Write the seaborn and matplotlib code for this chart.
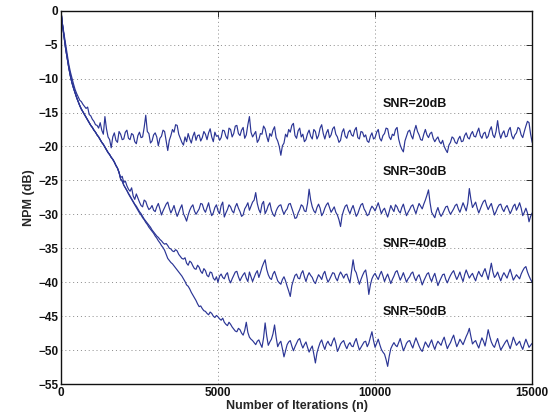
import numpy as np
import pandas as pd
import matplotlib
matplotlib.use("Agg")
import matplotlib.pyplot as plt
import seaborn as sns

# iterations (sampled every 50)
iterations = list(range(0, 15001, 50))

npm_20db = [
    0, -2.0, -3.5, -5.1, -6.5, -7.9, -9.0, -9.9, -10.8, -11.6, -12.2, -12.7, -13.2, -13.4, -13.8, -14.1, -14.4, -14.2, -15.3, -15.5,
    -16.0, -16.3, -16.8, -16.9, -17.3, -16.5, -17.6, -18.2, -15.6, -17.4, -18.6, -19.0, -20.2, -18.6, -18.0, -19.1, -19.4, -17.8, -18.2, -19.0,
    -18.9, -17.9, -17.6, -18.8, -19.0, -18.1, -18.3, -19.3, -19.6, -18.4, -17.9, -18.7, -18.6, -17.2, -15.4, -17.8, -18.1, -19.5, -19.2, -18.3,
    -18.0, -18.6, -19.9, -18.8, -18.5, -17.6, -17.8, -19.2, -20.6, -19.1, -18.4, -17.5, -17.9, -16.8, -16.9, -18.2, -18.8, -19.4, -19.8, -18.6,
    -19.3, -18.1, -18.9, -19.5, -18.5, -17.9, -19.1, -18.4, -18.3, -19.2, -18.7, -17.8, -18.2, -19.0, -18.0, -17.4, -18.6, -19.3, -17.9, -18.5,
    -18.4, -19.1, -18.7, -17.6, -17.7, -18.5, -18.9, -17.3, -17.5, -18.6, -18.1, -17.0, -16.9, -18.1, -18.4, -17.6, -17.2, -18.8, -18.3, -16.8,
    -15.6, -17.9, -18.6, -18.2, -17.8, -19.4, -19.0, -18.1, -18.2, -17.0, -17.4, -18.5, -19.3, -18.1, -18.5, -17.6, -17.1, -18.7, -19.2, -20.0,
    -21.3, -19.9, -19.5, -18.2, -18.6, -17.5, -17.9, -16.9, -16.6, -18.4, -18.8, -17.7, -17.3, -18.6, -18.2, -19.3, -19.0, -18.1, -17.6, -18.5,
    -18.9, -17.5, -17.8, -18.9, -18.4, -17.3, -16.8, -18.1, -18.9, -18.0, -17.5, -18.7, -18.3, -17.4, -17.1, -18.2, -18.6, -19.4, -19.1, -17.9,
    -17.4, -18.5, -18.8, -17.9, -17.6, -18.3, -18.5, -17.6, -17.2, -18.7, -18.9, -17.8, -17.9, -18.6, -18.3, -19.2, -19.4, -18.5, -18.0, -18.9,
    -18.7, -17.9, -17.5, -18.8, -19.2, -18.4, -18.1, -17.3, -17.4, -18.6, -19.0, -18.2, -18.4, -17.5, -17.2, -18.9, -19.8, -20.4, -20.8, -19.2,
    -18.5, -17.8, -17.6, -18.4, -18.9, -17.7, -16.9, -17.8, -18.3, -19.0, -19.1, -18.2, -17.5, -18.3, -18.7, -18.1, -17.9, -18.8, -19.3, -18.9,
    -18.6, -19.3, -19.6, -19.1, -20.0, -20.5, -20.9, -19.8, -19.4, -18.6, -18.8, -19.4, -19.6, -18.9, -18.5, -19.3, -19.2, -18.4, -18.0, -18.7,
    -18.9, -18.2, -17.8, -18.5, -18.6, -17.9, -17.3, -18.4, -18.8, -18.1, -17.9, -18.8, -18.5, -17.6, -17.1, -18.3, -18.7, -17.8, -16.2, -17.9,
    -18.8, -18.1, -17.7, -18.6, -18.5, -17.6, -17.2, -18.4, -18.9, -18.3, -18.0, -17.2, -17.4, -18.3, -18.7, -17.8, -17.0, -16.3, -16.5, -18.2,
    -19.4,
]

npm_30db = [
    0, -2.1, -3.9, -5.6, -7.0, -8.4, -9.6, -10.6, -11.4, -12.1, -12.8, -13.4, -14.0, -14.5, -14.9, -15.3, -15.7, -16.1, -16.5, -16.9,
    -17.2, -17.6, -17.9, -18.3, -18.6, -19.0, -19.4, -19.7, -20.1, -20.5, -20.9, -21.2, -21.6, -21.9, -22.3, -22.8, -23.2, -23.9, -24.6, -24.4,
    -25.3, -25.1, -25.8, -26.3, -26.6, -26.1, -27.3, -27.8, -27.0, -27.6, -28.2, -28.7, -28.9, -27.9, -28.1, -28.8, -29.3, -29.1, -28.7, -29.4,
    -29.6, -28.9, -28.4, -29.2, -30.1, -29.5, -29.0, -28.5, -28.2, -29.1, -29.8, -29.3, -28.7, -29.6, -30.3, -29.7, -29.1, -28.6, -29.9, -30.4,
    -31.0, -30.1, -29.4, -28.9, -28.6, -29.5, -30.0, -29.6, -29.2, -28.4, -28.5, -29.3, -29.7, -29.0, -28.3, -29.4, -30.2, -29.8, -29.0, -28.6,
    -29.5, -29.9, -28.7, -28.2, -30.4, -29.8, -29.3, -28.6, -28.9, -29.5, -29.8, -28.9, -28.4, -29.1, -29.6, -30.3, -30.1, -29.2, -28.8, -28.3,
    -29.4, -28.8, -28.2, -27.9, -26.8, -28.4, -29.3, -29.8, -28.5, -28.1, -29.9, -29.4, -28.7, -28.3, -29.4, -30.0, -30.3, -29.5, -29.0, -28.7,
    -28.6, -29.4, -30.0, -29.5, -29.2, -28.5, -28.4, -29.1, -29.8, -30.6, -30.5, -29.8, -29.3, -28.6, -28.8, -29.5, -29.6, -28.4, -26.3, -27.9,
    -28.9, -29.5, -29.8, -29.0, -28.5, -29.1, -30.2, -29.8, -29.1, -28.6, -28.3, -29.0, -29.7, -29.3, -28.9, -29.7, -30.1, -30.8, -31.8, -30.2,
    -29.4, -28.8, -28.6, -29.4, -29.9, -29.2, -28.7, -29.5, -30.3, -29.9, -29.2, -28.6, -28.4, -29.2, -29.6, -30.2, -30.0, -29.3, -28.8, -29.1,
    -29.5, -28.9, -28.3, -29.1, -29.9, -29.4, -29.1, -29.8, -30.4, -29.6, -28.7, -29.2, -29.6, -28.6, -28.9, -29.5, -29.8, -29.0, -28.5, -29.4,
    -30.2, -29.7, -29.3, -28.8, -28.6, -29.3, -29.9, -29.1, -28.4, -28.8, -29.2, -28.5, -27.9, -27.2, -26.4, -28.3, -29.7, -30.1, -30.5, -29.6,
    -29.0, -29.8, -30.3, -29.9, -29.4, -28.9, -28.8, -29.5, -30.0, -29.6, -29.2, -28.7, -28.5, -29.2, -29.7, -29.0, -28.3, -28.9, -29.5, -28.4,
    -26.2, -27.8, -29.0, -28.6, -28.2, -29.1, -29.8, -29.2, -28.6, -28.1, -27.9, -28.7, -29.3, -28.8, -28.4, -29.3, -30.1, -29.6, -29.0, -28.6,
    -28.5, -29.2, -29.6, -29.0, -28.7, -29.3, -29.9, -29.4, -28.8, -28.5, -29.4, -28.9, -28.3, -29.1, -30.2, -29.7, -29.1, -29.8, -31.1, -30.3,
    -29.8,
]

npm_40db = [
    0, -2.1, -3.9, -5.6, -7.0, -8.4, -9.6, -10.6, -11.4, -12.1, -12.8, -13.4, -14.0, -14.5, -14.9, -15.3, -15.7, -16.1, -16.5, -16.9,
    -17.2, -17.6, -17.9, -18.3, -18.6, -19.0, -19.4, -19.7, -20.1, -20.5, -20.9, -21.2, -21.6, -21.9, -22.3, -22.8, -23.2, -23.8, -24.8, -25.1,
    -25.7, -26.1, -26.5, -26.9, -27.3, -27.7, -28.1, -28.5, -28.8, -29.2, -29.6, -29.9, -30.3, -30.7, -31.0, -31.3, -31.6, -31.9, -32.3, -32.6,
    -32.9, -33.2, -33.4, -33.7, -33.9, -34.2, -34.4, -34.3, -34.6, -35.0, -35.1, -35.4, -35.5, -35.2, -35.4, -35.9, -36.2, -36.5, -36.6, -36.4,
    -37.2, -37.5, -36.9, -37.1, -37.6, -38.0, -38.1, -37.5, -37.8, -38.4, -38.7, -38.0, -38.3, -39.0, -39.2, -38.5, -38.6, -39.4, -39.7, -39.2,
    -40.0, -39.1, -38.8, -39.3, -39.5, -38.9, -38.6, -39.6, -40.1, -39.5, -39.0, -38.5, -38.4, -39.2, -39.8, -39.3, -38.9, -38.6, -39.4, -39.9,
    -38.5, -39.2, -39.9, -39.3, -38.7, -38.3, -39.3, -38.6, -37.8, -37.2, -36.7, -38.1, -38.9, -39.4, -39.6, -38.8, -38.4, -39.1, -39.8, -40.1,
    -40.3, -39.6, -39.2, -39.8, -40.6, -41.3, -42.1, -40.5, -39.7, -39.0, -38.8, -39.4, -39.5, -38.7, -38.3, -39.2, -39.9, -39.1, -38.6, -39.0,
    -39.3, -39.9, -40.2, -39.5, -38.9, -39.2, -39.6, -38.8, -38.4, -39.3, -40.0, -39.6, -39.1, -38.6, -38.7, -39.4, -39.8, -39.0, -38.5, -38.9,
    -39.4, -38.9, -38.8, -39.5, -40.1, -38.4, -36.7, -38.2, -38.6, -39.5, -40.3, -39.6, -39.0, -38.5, -38.2, -39.6, -41.8, -40.4, -39.5, -39.0,
    -38.7, -39.2, -39.6, -38.9, -38.4, -39.1, -39.9, -39.3, -38.8, -39.5, -40.2, -39.6, -39.1, -38.5, -38.3, -39.0, -39.7, -39.2, -38.6, -39.3,
    -40.0, -39.5, -39.2, -38.7, -38.5, -39.3, -39.8, -39.2, -38.9, -39.6, -40.4, -39.8, -39.3, -38.8, -38.6, -39.4, -39.9, -39.2, -38.7, -39.6,
    -40.5, -39.9, -39.4, -38.9, -38.8, -39.6, -40.1, -39.5, -39.0, -38.6, -38.3, -39.0, -39.6, -39.1, -38.5, -39.3, -39.9, -38.9, -38.2, -38.8,
    -39.4, -39.0, -38.7, -39.3, -39.8, -39.0, -38.4, -38.9, -39.2, -38.5, -38.0, -38.8, -39.6, -38.4, -37.2, -38.5, -39.3, -39.0, -38.5, -39.2,
    -39.8, -39.1, -38.6, -39.0, -39.4, -38.7, -38.1, -38.9, -39.7, -39.3, -38.9, -39.2, -39.5, -38.8, -38.3, -37.9, -37.7, -38.5, -39.1, -39.6,
    -40.0,
]

npm_50db = [
    0, -2.1, -3.9, -5.6, -7.0, -8.4, -9.6, -10.6, -11.4, -12.1, -12.8, -13.4, -14.0, -14.5, -14.9, -15.3, -15.7, -16.1, -16.5, -16.9,
    -17.2, -17.6, -17.9, -18.3, -18.6, -19.0, -19.4, -19.7, -20.1, -20.5, -20.9, -21.2, -21.6, -21.9, -22.3, -22.8, -23.2, -23.8, -24.8, -25.1,
    -25.7, -26.1, -26.5, -27.0, -27.4, -27.8, -28.2, -28.6, -29.0, -29.4, -29.8, -30.1, -30.5, -30.8, -31.2, -31.5, -31.9, -32.2, -32.5, -32.8,
    -33.2, -33.5, -33.9, -34.2, -34.6, -34.9, -35.3, -35.9, -36.5, -36.8, -37.1, -37.3, -37.6, -37.9, -38.2, -38.5, -38.8, -39.1, -39.5, -39.9,
    -40.4, -40.6, -41.0, -41.5, -41.9, -42.3, -42.7, -43.2, -43.6, -43.5, -43.9, -44.2, -44.3, -44.6, -44.8, -44.4, -44.6, -45.0, -45.2, -44.9,
    -45.1, -45.4, -45.6, -45.3, -45.9, -46.2, -46.4, -45.9, -46.2, -46.6, -46.9, -47.2, -47.3, -46.8, -47.0, -47.5, -47.8, -47.1, -45.9, -47.4,
    -48.1, -48.4, -48.6, -48.9, -49.2, -48.7, -48.5, -49.1, -49.6, -48.2, -46.0, -47.9, -49.3, -48.8, -48.4, -47.6, -46.3, -48.1, -49.5, -49.0,
    -48.7, -49.8, -51.0, -50.1, -49.2, -48.8, -48.6, -49.4, -50.1, -49.5, -49.0, -48.5, -48.3, -49.1, -49.7, -49.2, -48.8, -49.6, -50.3, -49.8,
    -49.4, -50.6, -51.9, -50.4, -49.6, -48.9, -48.5, -49.3, -49.9, -49.1, -48.7, -49.2, -49.4, -48.7, -48.2, -49.0, -50.2, -49.7, -49.1, -48.8,
    -48.6, -49.3, -49.8, -49.2, -48.9, -49.4, -49.5, -48.8, -48.3, -49.2, -50.0, -49.6, -49.2, -48.8, -48.7, -49.5, -49.0, -48.1, -47.3, -48.6,
    -49.6, -49.0, -48.4, -49.2, -49.9, -50.3, -50.6, -51.4, -52.4, -50.9, -49.8, -49.3, -48.9, -49.3, -49.5, -48.9, -48.3, -49.2, -50.1, -49.6,
    -49.0, -48.7, -48.6, -49.2, -49.7, -48.9, -48.2, -48.8, -49.4, -49.9, -50.2, -49.5, -48.8, -49.2, -49.6, -49.0, -48.5, -49.3, -49.9, -49.2,
    -48.7, -49.0, -49.3, -48.6, -48.1, -49.0, -49.8, -49.3, -48.9, -48.3, -47.8, -48.7, -49.5, -49.0, -48.4, -48.8, -49.2, -48.6, -48.0, -47.5,
    -46.8, -48.0, -49.1, -48.8, -48.6, -49.2, -49.7, -48.9, -48.2, -48.7, -49.4, -48.3, -47.0, -48.0, -48.8, -49.3, -49.6, -48.9, -48.3, -49.2,
    -50.0, -49.6, -49.2, -48.8, -48.5, -49.2, -49.8, -49.0, -48.1, -48.7, -49.3, -49.0, -48.7, -49.4, -49.9, -49.1, -48.4, -49.0, -49.6, -49.3,
    -49.0,
]

labels = ["SNR=20dB", "SNR=30dB", "SNR=40dB", "SNR=50dB"]
label_pos = [(10250, -13.7), (10250, -23.7), (10250, -34.4), (10250, -44.4)]
x_ticks = [0, 5000, 10000, 15000]
y_ticks = list(range(-55, 1, 5))

frames = []
for lab, vals in zip(labels, [npm_20db, npm_30db, npm_40db, npm_50db]):
    assert len(vals) == len(iterations), (lab, len(vals))
    frames.append(pd.DataFrame({"n": iterations, "npm": vals, "snr": lab}))
df = pd.concat(frames, ignore_index=True)

sns.set_style("white")
plt.rcParams["font.family"] = ["Liberation Sans", "DejaVu Sans"]
plt.rcParams["font.weight"] = "bold"

fig = plt.figure(figsize=(5.59, 4.19), dpi=100)
ax = fig.add_axes([0.109, 0.0835, 0.843, 0.891])

line_color = "#2b3595"
sns.lineplot(data=df, x="n", y="npm", hue="snr", units="snr", estimator=None,
             palette=[line_color] * 4, legend=False, linewidth=0.85, ax=ax)

for lab, (tx, ty) in zip(labels, label_pos):
    ax.text(tx, ty, lab, fontsize=9, fontweight="bold", va="center", ha="left",
            color="#111111")

ax.set_xlim(0, 15000)
ax.set_ylim(-55, 0)
ax.set_xticks(x_ticks)
ax.set_yticks(y_ticks)
ax.set_xticklabels([str(t) for t in x_ticks])
ax.set_xlabel("Number of Iterations (n)", fontsize=9, fontweight="bold", labelpad=1)
ax.set_ylabel("NPM (dB)", fontsize=9, fontweight="bold", labelpad=2)
ax.tick_params(direction="in", length=4, width=0.6, top=True, right=True,
               labelsize=8.5, pad=2, colors="#111111")
for lbl in ax.get_xticklabels() + ax.get_yticklabels():
    lbl.set_fontweight("bold")
ax.grid(True, linestyle=(0, (1, 3)), color="#8a8a8a", linewidth=0.7)
for sp in ax.spines.values():
    sp.set_visible(True)
    sp.set_color("#111111")
    sp.set_linewidth(1.0)

fig.savefig("out.png", dpi=100)
